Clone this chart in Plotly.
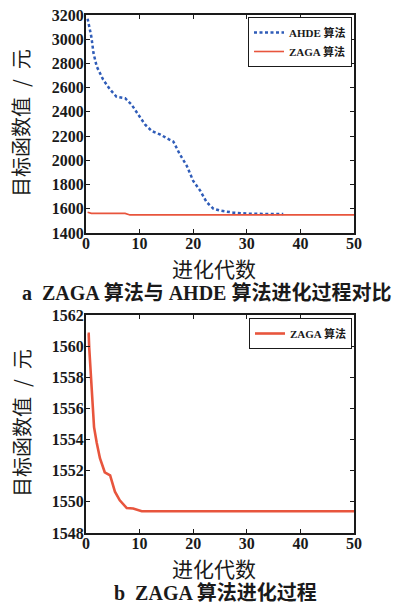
import plotly.graph_objects as go

# ---- data ----
ahde_gen = [0.3, 1.0, 1.4, 2.0, 3.2, 4.5, 5.7, 7.3, 8.5, 9.8, 11.0, 12.3, 13.8, 15.4, 16.3,
            17.5, 18.8, 20.0, 21.3, 22.5, 23.8, 25.0, 27.5, 30.0, 32.5, 35.0, 36.8]
ahde_val = [3170, 3020, 2885, 2775, 2666, 2584, 2525, 2513, 2460, 2378, 2296, 2241, 2214, 2175, 2155,
            2050, 1955, 1830, 1750, 1655, 1600, 1585, 1568, 1560, 1556, 1556, 1556]

zaga_a_gen = [0.3, 1.0, 7.3, 8.2, 50]
zaga_a_val = [1572, 1562, 1562, 1549.5, 1549.5]

zaga_b_gen = [0.3, 0.5, 0.6, 0.75, 1.06, 1.24, 1.5, 2.0, 2.6, 3.5, 4.5, 5.4, 6.3, 7.6, 8.8, 10.4, 50]
zaga_b_val = [1560.8, 1560.8, 1559.9, 1558.9, 1557.2, 1555.9, 1554.8, 1553.8, 1552.8, 1551.9,
              1551.7, 1550.65, 1550.1, 1549.6, 1549.57, 1549.4, 1549.4]

x_ticks = [0, 10, 20, 30, 40, 50]
ya_ticks = [1400, 1600, 1800, 2000, 2200, 2400, 2600, 2800, 3000, 3200]
yb_ticks = [1548, 1550, 1552, 1554, 1556, 1558, 1560, 1562]

name_ahde = "AHDE 算法"
name_zaga = "ZAGA 算法"
y_title = "目标函数值\u2002/\u2002元"
x_title = "进化代数"
cap_a = "a  ZAGA 算法与 AHDE 算法进化过程对比"
cap_b = "b  ZAGA 算法进化过程"

W, H = 408, 604
BLUE = "#2f5cb8"
RED = "#e8553d"
SERIF = "Liberation Serif, Noto Sans CJK SC, serif"
CJK = "Noto Sans CJK SC, sans-serif"

def px_x(p):
    return p / W

def px_y(p):
    return 1 - p / H

fig = go.Figure()
fig.add_trace(go.Scatter(x=ahde_gen, y=ahde_val, mode="lines", name=name_ahde,
                         line=dict(color=BLUE, width=2.5, dash="3px,2.5px"),
                         xaxis="x", yaxis="y", legend="legend"))
fig.add_trace(go.Scatter(x=zaga_a_gen, y=zaga_a_val, mode="lines", name=name_zaga,
                         line=dict(color=RED, width=1.6),
                         xaxis="x", yaxis="y", legend="legend"))
fig.add_trace(go.Scatter(x=zaga_b_gen, y=zaga_b_val, mode="lines", name=name_zaga,
                         line=dict(color=RED, width=2.6),
                         xaxis="x2", yaxis="y2", legend="legend2"))

axis_common = dict(showline=True, linecolor="#1a1a1a", linewidth=2, mirror="ticks",
                   ticks="inside", ticklen=4, tickwidth=1.2, tickcolor="#1a1a1a",
                   showgrid=False, zeroline=False, automargin=False,
                   tickfont=dict(family=SERIF, size=16, color="#1a1a1a", weight="bold"))
xa = dict(axis_common, ticklabelstandoff=-5)
ya = dict(axis_common, ticklabelstandoff=-3)

xdom = [px_x(86), px_x(354)]
fig.update_layout(
    width=W, height=H, margin=dict(l=0, r=0, t=0, b=0, autoexpand=False),
    paper_bgcolor="white", plot_bgcolor="white", showlegend=True,
    xaxis=dict(domain=xdom, range=[0, 50], tickvals=x_ticks, anchor="y", **xa),
    yaxis=dict(domain=[px_y(233), px_y(15)], range=[1400, 3200], tickvals=ya_ticks,
               anchor="x", **ya),
    xaxis2=dict(domain=xdom, range=[0, 50], tickvals=x_ticks, anchor="y2", **xa),
    yaxis2=dict(domain=[px_y(533), px_y(315)], range=[1548, 1562], tickvals=yb_ticks,
                anchor="x2", **ya),
    legend=dict(x=px_x(352), y=px_y(17), xanchor="right", yanchor="top",
                bgcolor="white", bordercolor="#1a1a1a", borderwidth=1,
                font=dict(family=SERIF, size=11, color="#1a1a1a", weight="bold"),
                itemwidth=30, tracegroupgap=0, itemsizing="trace"),
    legend2=dict(x=px_x(352), y=px_y(318), xanchor="right", yanchor="top",
                 bgcolor="white", bordercolor="#1a1a1a", borderwidth=1,
                 font=dict(family=SERIF, size=11, color="#1a1a1a", weight="bold"),
                 itemwidth=30, itemsizing="trace"),
)

ann = []
for yc in (123, 423):
    ann.append(dict(text=y_title, x=px_x(21), y=px_y(yc), xref="paper", yref="paper",
                    showarrow=False, textangle=-90, xanchor="center", yanchor="middle",
                    font=dict(family=CJK, size=20, color="#1a1a1a")))
for yc in (268, 568):
    ann.append(dict(text=x_title, x=px_x(214), y=px_y(yc), xref="paper", yref="paper",
                    showarrow=False, xanchor="center", yanchor="middle",
                    font=dict(family=CJK, size=21, color="#1a1a1a")))
ann.append(dict(text=cap_a, x=px_x(206), y=px_y(293), xref="paper", yref="paper",
                showarrow=False, xanchor="center", yanchor="middle",
                font=dict(family=SERIF, size=20, color="#1a1a1a", weight="bold")))
ann.append(dict(text=cap_b, x=px_x(215), y=px_y(593), xref="paper", yref="paper",
                showarrow=False, xanchor="center", yanchor="middle",
                font=dict(family=SERIF, size=20, color="#1a1a1a", weight="bold")))
fig.update_layout(annotations=ann)

fig.write_html("out.html", config={"displayModeBar": False},
               post_script="document.body.style.margin='0';document.body.style.overflow='hidden';")
